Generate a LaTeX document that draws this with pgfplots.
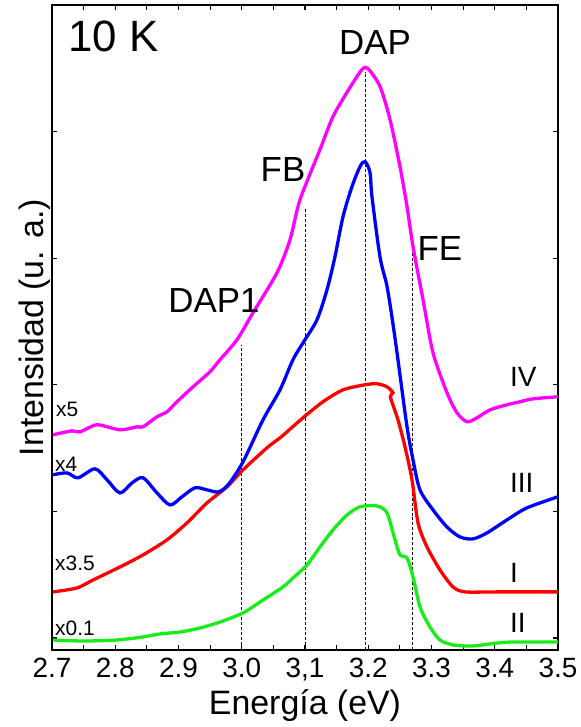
\documentclass[border=0pt]{standalone}
\usepackage{pgfplots}
\pgfplotsset{compat=1.18}
\usepackage{fontspec}
\setmainfont{Liberation Sans}

\definecolor{cIV}{rgb}{1,0,1}
\definecolor{cIII}{rgb}{0,0,1}
\definecolor{cI}{rgb}{1,0,0}
\definecolor{cII}{rgb}{0.1,0.93,0.1}

\begin{document}
\begin{tikzpicture}
  \begin{axis}[
    scale only axis,
    width=506bp, height=645bp,
    xmin=2.7, xmax=3.5,
    ymin=-0.095, ymax=5.0,
    xtick={2.7,2.8,2.9,3.0,3.1,3.2,3.3,3.4,3.5},
    xticklabels={2.7,2.8,2.9,3.0,{3,1},3.2,3.3,3.4,3.5},
    minor xtick={2.75,2.85,2.95,3.05,3.15,3.25,3.35,3.45},
    ytick={0,1,2,3,4,5},
    yticklabels={},
    major tick length=5bp, minor tick length=5bp,
    tick style={line width=1.2bp, black},
    axis line style={line width=1.8bp},
    /pgf/number format/assume math mode=true,
    every tick label/.append style={font=\fontsize{28}{30}\selectfont},
    xticklabel style={yshift=-5bp},
    xlabel={Energía (eV)},
    ylabel={Intensidad (u. a.)},
    every axis x label/.style={at={(axis description cs:0.5,0)}, anchor=north, yshift=-39bp, inner sep=0pt, font=\fontsize{34}{36}\selectfont},
    every axis y label/.style={at={(axis description cs:0,0.5)}, rotate=90, anchor=south, inner sep=1bp, font=\fontsize{34}{36}\selectfont},
    clip=false,
  ]
    % dashed markers
    \addplot[black, densely dashed, line width=0.8bp] coordinates {(3.0,-0.095) (3.0,2.316)};
    \addplot[black, densely dashed, line width=0.8bp] coordinates {(3.1,-0.095) (3.1,3.399)};
    \addplot[black, densely dashed, line width=0.8bp] coordinates {(3.195,-0.095) (3.195,4.474)};
    \addplot[black, densely dashed, line width=0.8bp] coordinates {(3.27,-0.095) (3.27,3.146)};

    % II (x0.1)
    \addplot[cII, line width=3.3bp, smooth, tension=0.45] coordinates {
      (2.7016,-0.016) (2.7490,-0.024) (2.8028,-0.016) (2.8439,0.008)
      (2.8708,0.032) (2.9024,0.047) (2.9340,0.079) (2.9656,0.126)
      (3.0020,0.198) (3.0336,0.300) (3.0652,0.403) (3.0810,0.474)
      (3.1032,0.577) (3.1237,0.719) (3.1443,0.854) (3.1664,0.972)
      (3.1870,1.036) (3.2138,1.043) (3.2296,0.988) (3.2423,0.775)
      (3.2502,0.656) (3.2613,0.632) (3.2708,0.482) (3.2818,0.245)
      (3.2976,0.087) (3.3134,-0.016) (3.3340,-0.055) (3.3656,-0.063)
      (3.4036,-0.040) (3.4289,-0.032) (3.5,-0.032)
    };

    % I (x3.5)
    \addplot[cI, line width=3.3bp, smooth, tension=0.45] coordinates {
      (2.7016,0.364) (2.7395,0.395) (2.7648,0.458) (2.8075,0.561)
      (2.8439,0.656) (2.8818,0.775) (2.9134,0.909) (2.9451,1.067)
      (2.9767,1.194) (3.0020,1.328) (3.0399,1.502) (3.0605,1.581)
      (3.0715,1.628) (3.0968,1.739) (3.1285,1.866) (3.1601,1.960)
      (3.1949,2.000) (3.2138,2.008) (3.2296,1.984) (3.2391,1.937)
      (3.2350,1.905) (3.2470,1.723) (3.2581,1.510) (3.2692,1.249)
      (3.2787,0.909) (3.2929,0.719) (3.3134,0.538) (3.3340,0.403)
      (3.3530,0.364) (3.4036,0.364) (3.5,0.364)
    };

    % III (x4)
    \addplot[cIII, line width=3.3bp, smooth, tension=0.5] coordinates {
      (2.7016,1.289) (2.7237,1.304) (2.7411,1.265) (2.7680,1.336)
      (2.7870,1.249) (2.8075,1.146) (2.8265,1.225) (2.8439,1.265)
      (2.8660,1.146) (2.8866,1.051) (2.9055,1.115) (2.9261,1.186)
      (2.9451,1.170) (2.9625,1.154) (2.9783,1.209) (3.0020,1.391)
      (3.0336,1.723) (3.0605,1.960) (3.0810,2.198) (3.1000,2.356)
      (3.1190,2.514) (3.1348,2.751) (3.1474,3.012) (3.1601,3.328)
      (3.1743,3.565) (3.1870,3.723) (3.1949,3.763) (3.2028,3.676)
      (3.2059,3.486) (3.2186,3.010) (3.2296,2.780) (3.2391,2.480)
      (3.2470,2.198) (3.2613,1.668) (3.2708,1.407) (3.2818,1.170)
      (3.3024,1.012) (3.3245,0.877) (3.3451,0.798) (3.3656,0.783)
      (3.3877,0.830) (3.4194,0.933) (3.4510,1.028) (3.5,1.115)
    };

    % IV (x5)
    \addplot[cIV, line width=3.3bp, smooth, tension=0.45] coordinates {
      (2.7016,1.605) (2.7316,1.636) (2.7443,1.628) (2.7711,1.684)
      (2.8075,1.644) (2.8344,1.668) (2.8439,1.668) (2.8660,1.747)
      (2.8818,1.787) (2.8976,1.866) (2.9229,1.984) (2.9498,2.103)
      (2.9656,2.198) (2.9925,2.356) (3.0178,2.569) (3.0557,2.885)
      (3.0763,3.146) (3.0921,3.462) (3.1237,3.858) (3.1443,4.119)
      (3.1711,4.348) (3.1901,4.490) (3.1996,4.498) (3.2186,4.356)
      (3.2344,4.095) (3.2502,3.723) (3.2613,3.407) (3.2708,3.091)
      (3.2866,2.672) (3.3024,2.253) (3.3245,1.937) (3.3403,1.779)
      (3.3561,1.708) (3.3719,1.739) (3.3925,1.802) (3.4194,1.842)
      (3.4399,1.866) (3.4605,1.889) (3.5,1.905)
    };

    % labels
    \node[anchor=west, inner sep=0pt, font=\fontsize{44}{48}\selectfont] at (axis cs:2.7253,4.751) {10 K};
    \node[inner sep=0pt, font=\fontsize{35}{38}\selectfont] at (axis cs:3.2107,4.704) {DAP};
    \node[inner sep=0pt, font=\fontsize{35}{38}\selectfont] at (axis cs:3.0652,3.700) {FB};
    \node[inner sep=0pt, font=\fontsize{35}{38}\selectfont] at (axis cs:3.3134,3.075) {FE};
    \node[inner sep=0pt, font=\fontsize{35}{38}\selectfont] at (axis cs:2.9561,2.664) {DAP1};

    \node[anchor=west, inner sep=0pt, font=\fontsize{21}{23}\selectfont] at (axis cs:2.7063,1.802) {x5};
    \node[anchor=west, inner sep=0pt, font=\fontsize{21}{23}\selectfont] at (axis cs:2.7047,1.368) {x4};
    \node[anchor=west, inner sep=0pt, font=\fontsize{21}{23}\selectfont] at (axis cs:2.7047,0.593) {x3.5};
    \node[anchor=west, inner sep=0pt, font=\fontsize{21}{23}\selectfont] at (axis cs:2.7047,0.079) {x0.1};

    \node[anchor=west, inner sep=0pt, font=\fontsize{28}{30}\selectfont] at (axis cs:3.4241,2.063) {IV};
    \node[anchor=west, inner sep=0pt, font=\fontsize{28}{30}\selectfont] at (axis cs:3.4241,1.225) {III};
    \node[anchor=west, inner sep=0pt, font=\fontsize{28}{30}\selectfont] at (axis cs:3.4241,0.514) {I};
    \node[anchor=west, inner sep=0pt, font=\fontsize{28}{30}\selectfont] at (axis cs:3.4241,0.119) {II};
  \end{axis}
  \path (current axis.south west) ++(-52bp,-77bp) rectangle ++(581bp,727bp);
\end{tikzpicture}
\end{document}
